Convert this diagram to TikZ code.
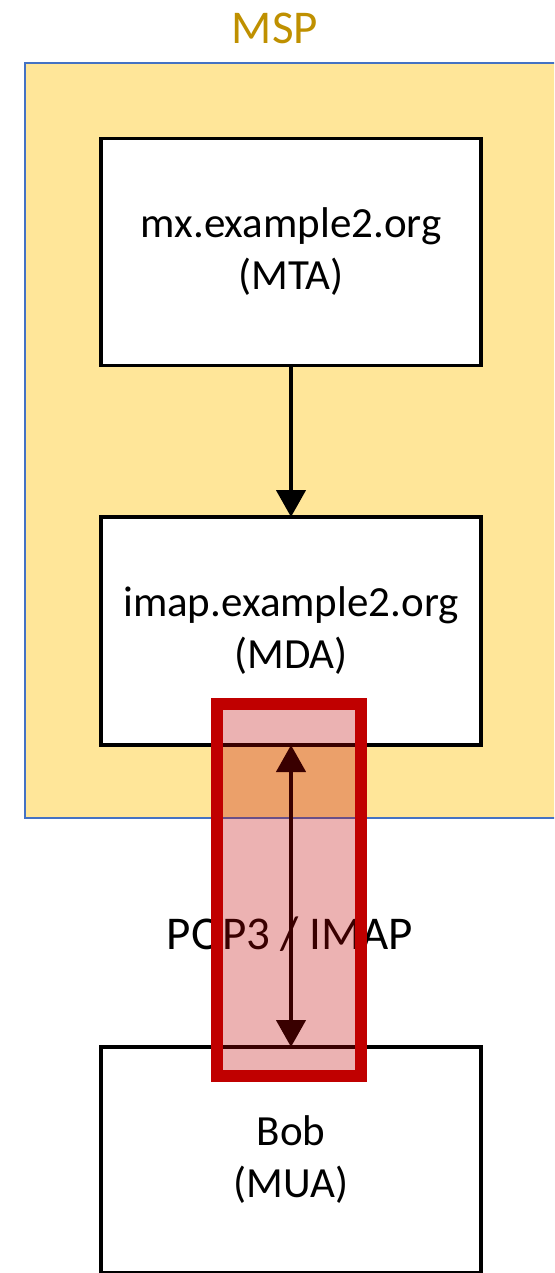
\documentclass[tikz,border=0pt]{standalone}
\usepackage{fontspec}
\setmainfont{Carlito}
\usetikzlibrary{arrows.meta}
\definecolor{mspfill}{HTML}{FFE699}
\definecolor{mspedge}{HTML}{4472C4}
\definecolor{msptext}{HTML}{BF9000}
\definecolor{hilite}{HTML}{C00000}
\tikzset{
  server/.style={draw=black, line width=3.5pt, fill=white, minimum width=380pt,
    inner sep=0pt, outer sep=0pt, align=center, font=\fontsize{43}{52}\selectfont},
  flow/.style={line width=4.5pt, -{Triangle[width=29pt,length=27pt]}},
  link/.style={line width=4.5pt, {Triangle[width=29pt,length=27pt]}-{Triangle[width=29pt,length=27pt]}},
  biglabel/.style={font=\fontsize{47}{52}\selectfont, inner sep=0pt, anchor=base},
  hilitebox/.style={draw=hilite, line width=12pt, fill=hilite, fill opacity=0.3,
    draw opacity=1, minimum width=144pt, minimum height=372pt, inner sep=0pt}
}
\begin{document}
\begin{tikzpicture}[x=1pt,y=-1pt]
\useasboundingbox (0,0) rectangle (554,1273);
\clip (0,0) rectangle (554,1273);
% provider area
\path[draw=mspedge, fill=mspfill, line width=2pt] (25,63) rectangle (600,818);
\node[biglabel, text=msptext] (msp) at (275,44) {MSP};
% servers and client
\node[server, minimum height=227pt] (mta) at (291,252) {mx.example2.org\\(MTA)};
\node[server, minimum height=228pt] (mda) at (291,631) {imap.example2.org\\(MDA)};
\node[server, minimum height=226pt] (mua) at (291,1160) {Bob\\(MUA)};
% mail flow
\draw[flow] (mta.south) -- (mda.north);
\draw[link] (mda.south) -- (mua.north);
\node[biglabel] (proto) at (290,949) {POP3 / IMAP};
% highlight over the retrieval link
\node[hilitebox] (hl) at (289,890) {};
\end{tikzpicture}
\end{document}
